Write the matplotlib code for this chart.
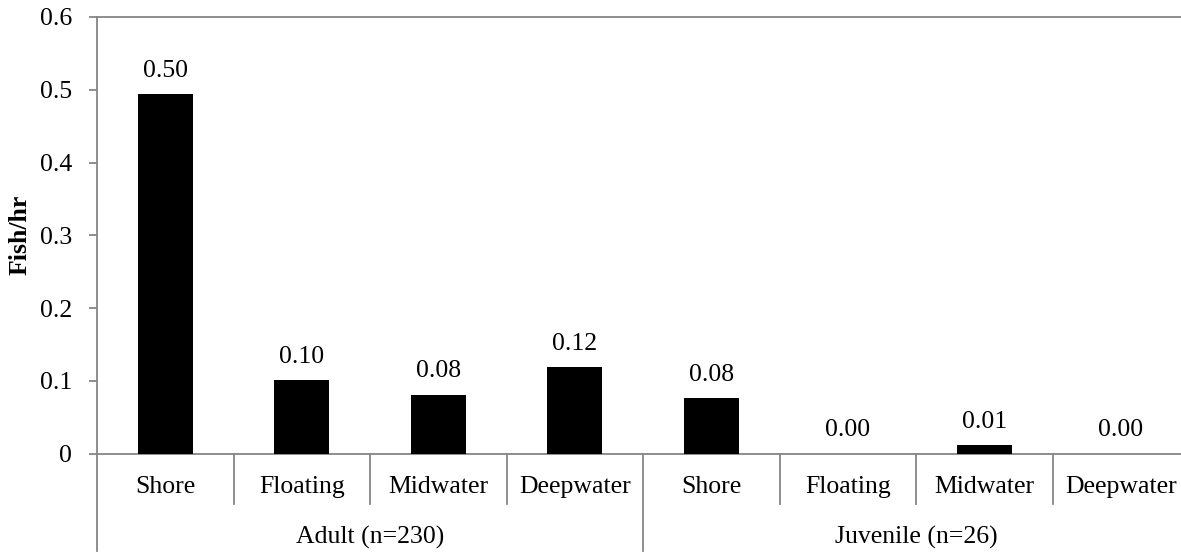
import numpy as np
import matplotlib.pyplot as plt

plt.rcParams['font.family'] = ['Liberation Serif', 'DejaVu Serif']

habitats = ['Shore', 'Floating', 'Midwater', 'Deepwater']
groups = ['Adult (n=230)', 'Juvenile (n=26)']
adult = [0.494, 0.101, 0.081, 0.119]
juvenile = [0.076, 0.0, 0.012, 0.0]
value_labels = ['0.50', '0.10', '0.08', '0.12', '0.08', '0.00', '0.01', '0.00']

values = adult + juvenile
categories = habitats * len(groups)
x = np.arange(len(values))

W, H = 1181, 552
fig = plt.figure(figsize=(W / 100, H / 100), dpi=100)
ax = fig.add_axes([97 / W, 1 - 453.7 / H, (1189 - 97) / W, (453.7 - 17) / H])

ax.bar(x, values, width=0.4, color='black', zorder=3)

ax.set_xlim(-0.5, len(values) - 0.5)
ax.set_ylim(0, 0.6)
ax.set_yticks(np.arange(0, 0.61, 0.1))
ax.set_yticklabels(['0'] + ['%.1f' % v for v in np.arange(0.1, 0.61, 0.1)])
ax.tick_params(axis='y', length=6, width=1.3, color='#868686', pad=12, labelsize=18.5)
ax.set_xticks([])

gray = '#868686'
for side in ['left', 'bottom', 'top', 'right']:
    ax.spines[side].set_color(gray)
    ax.spines[side].set_linewidth(1.3)

ax.set_ylabel('Fish/hr', fontsize=18.5, fontweight='bold', labelpad=6)

# value labels above the bars
for xi, v, lab in zip(x, values, value_labels):
    ax.annotate(lab, (xi, v), xytext=(0, 12.5), textcoords='offset points',
                ha='center', va='baseline', fontsize=18.5)

# two-level category axis
tr = ax.get_xaxis_transform()
for i in range(len(values) + 1):
    edge = i - 0.5
    depth = -0.222 if i % len(habitats) == 0 else -0.1145
    ax.plot([edge, edge], [0, depth], color=gray, lw=1.3, transform=tr, clip_on=False)

for xi, cat in zip(x, categories):
    ax.text(xi, -0.076, cat, transform=tr, ha='center', va='center', fontsize=18.5)

for g, name in enumerate(groups):
    center = g * len(habitats) + (len(habitats) - 1) / 2
    ax.text(center, -0.191, name, transform=tr, ha='center', va='center', fontsize=18.5)

fig.savefig('out.png', dpi=100)
